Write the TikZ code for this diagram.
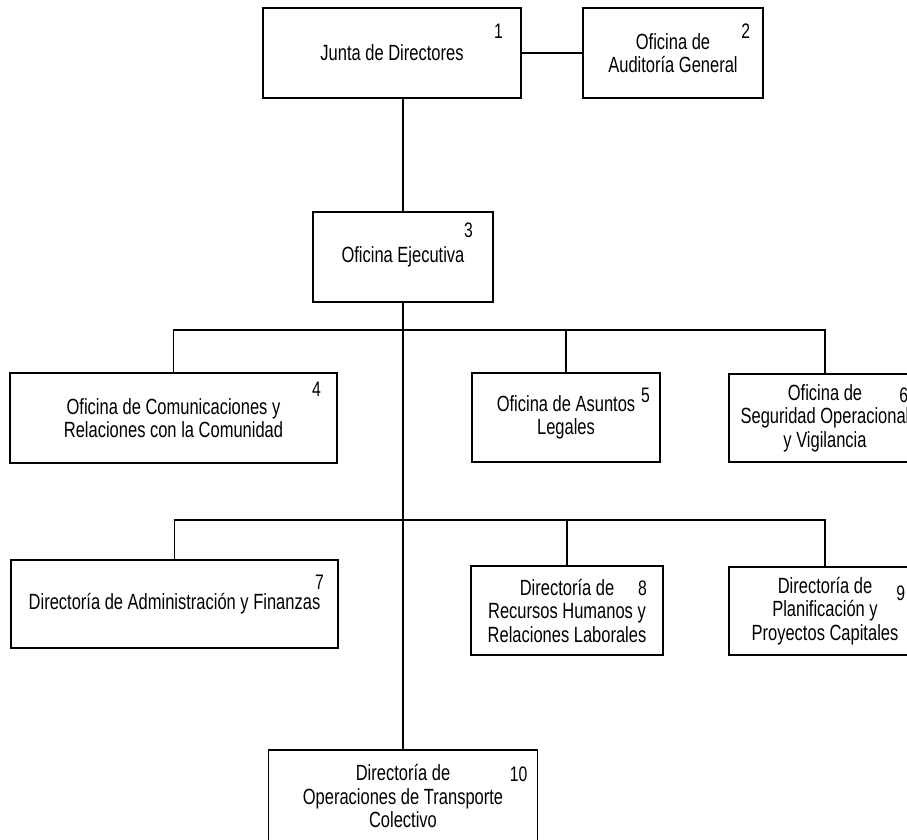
\documentclass[tikz,border=0pt]{standalone}
\usepackage{fontspec}
\setmainfont{Liberation Sans}[FakeStretch=0.75]
\usepackage{tikz}

\begin{document}
\begin{tikzpicture}
  [x=1pt,y=-1pt,line width=1.2pt,
   box/.style={draw,rectangle,align=center,inner sep=0pt,font=\fontsize{22}{23.5}\selectfont},
   num/.style={anchor=north east,inner sep=0pt,font=\fontsize{21}{23}\selectfont}]
  \useasboundingbox (0,0) rectangle (907,839);
  \clip (0,0) rectangle (907,839);

  \node[box,minimum width=258pt,minimum height=90pt] (b1) at (392,53) {Junta de Directores};
  \node[box,minimum width=180pt,minimum height=90pt] (b2) at (673,53) {Oficina de\\Auditoría General};
  \node[box,minimum width=180pt,minimum height=90pt] (b3) at (403,257) {Oficina Ejecutiva};
  \node[box,minimum width=327pt,minimum height=90pt] (b4) at (173.5,418) {Oficina de Comunicaciones y\\Relaciones con la Comunidad};
  \node[box,minimum width=188pt,minimum height=89pt] (b5) at (566,417.5) {Oficina de Asuntos\\Legales};
  \node[box,minimum width=192pt,minimum height=88pt] (b6) at (825,418) {Oficina de\\Seguridad Operacional\\y Vigilancia};
  \node[box,minimum width=327pt,minimum height=88pt] (b7) at (174.5,604) {Directoría de Administración y Finanzas};
  \node[box,minimum width=192pt,minimum height=89pt] (b8) at (567,610.5) {Directoría de\\Recursos Humanos y\\Relaciones Laborales};
  \node[box,minimum width=192pt,minimum height=88pt] (b9) at (825,611) {Directoría de\\Planificación y\\Proyectos Capitales};
  \node[box,minimum width=269pt,minimum height=92pt] (b10) at (403,796) {Directoría de\\Operaciones de Transporte\\Colectivo};

  % numeros de las cajas
  \node[num] (n1) at ([xshift=-18pt,yshift=-16pt]b1.north east) {1};
  \node[num] (n2) at ([xshift=-13pt,yshift=-16pt]b2.north east) {2};
  \node[num] (n3) at ([xshift=-20pt,yshift=-11pt]b3.north east) {3};
  \node[num] (n4) at ([xshift=-16pt,yshift=-9pt]b4.north east) {4};
  \node[num] (n5) at ([xshift=-10pt,yshift=-15pt]b5.north east) {5};
  \node[num] (n6) at ([xshift=-13pt,yshift=-14pt]b6.north east) {6};
  \node[num] (n7) at ([xshift=-14pt,yshift=-15pt]b7.north east) {7};
  \node[num] (n8) at ([xshift=-16pt,yshift=-15pt]b8.north east) {8};
  \node[num] (n9) at ([xshift=-16pt,yshift=-19pt]b9.north east) {9};
  \node[num] (n10) at ([xshift=-10pt,yshift=-17pt]b10.north east) {10};

  \coordinate (r1) at (403,330);
  \coordinate (r2) at (403,520);

  \draw (b1) -- (b2);
  \draw (b3.north) -- (b3.north |- b1.south);
  \draw (b3.south) -- (b10.north);
  \foreach \to in {b4,b5,b6}
    \draw (r1) -| (\to.north);
  \foreach \to in {b7,b8,b9}
    \draw (r2) -| (\to.north);

\end{tikzpicture}
\end{document}
